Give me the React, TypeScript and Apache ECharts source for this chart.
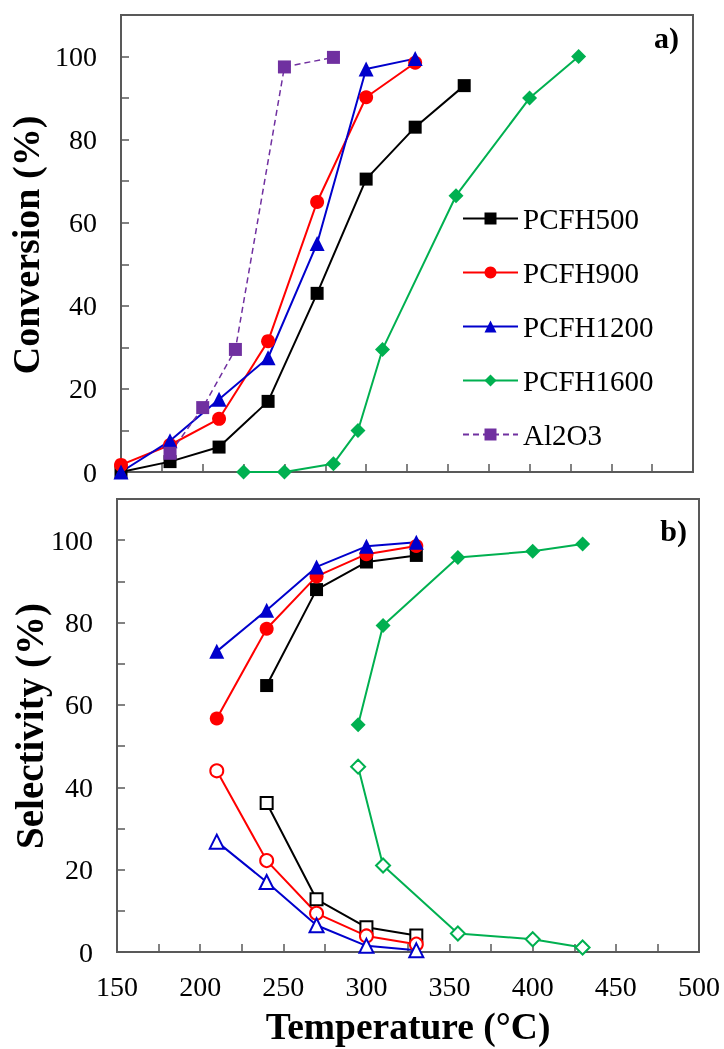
import { useEffect, useRef } from "react";
import * as echarts from "echarts";

const FONT = "Liberation Serif";

// Panel a) conversion (%) vs temperature (°C)
const tempPCFH500 = [150, 180, 210, 240, 270, 300, 330, 360];
const convPCFH500 = [0, 2.5, 6, 17, 43, 70.5, 83, 93];
const tempPCFH900 = [150, 180, 210, 240, 270, 300, 330];
const convPCFH900 = [1.7, 6.5, 12.8, 31.5, 65, 90.2, 98.5];
const tempPCFH1200 = [150, 180, 210, 240, 270, 300, 330];
const convPCFH1200 = [0, 7.5, 17.5, 27.5, 55, 97, 99.5];
const tempPCFH1600 = [225, 250, 280, 295, 310, 355, 400, 430];
const convPCFH1600 = [0, 0, 2, 10, 29.5, 66.5, 90, 100];
const tempAl2O3 = [180, 200, 220, 250, 280];
const convAl2O3 = [4.5, 15.5, 29.5, 97.5, 99.8];

// Panel b) selectivity (%) vs temperature (°C): filled = main product, open = by-product
const selTempPCFH500 = [240, 270, 300, 330];
const selPCFH500 = [64.7, 88, 94.7, 96.3];
const byPCFH500 = [36.2, 12.8, 6, 4];
const selTempPCFH900 = [210, 240, 270, 300, 330];
const selPCFH900 = [56.7, 78.5, 91.2, 96.6, 98.6];
const byPCFH900 = [44, 22.2, 9.4, 3.9, 1.9];
const selTempPCFH1200 = [210, 240, 270, 300, 330];
const selPCFH1200 = [73, 83, 93.5, 98.5, 99.5];
const byPCFH1200 = [26.8, 17, 6.5, 1.5, 0.4];
const selTempPCFH1600 = [295, 310, 355, 400, 430];
const selPCFH1600 = [55.2, 79.3, 95.8, 97.3, 99.1];
const byPCFH1600 = [45, 21, 4.5, 3.1, 1.1];

const legendNames = ["PCFH500", "PCFH900", "PCFH1200", "PCFH1600", "Al2O3"];

const COLORS: Record<string, string> = {
  PCFH500: "#000000",
  PCFH900: "#ff0000",
  PCFH1200: "#0000cc",
  PCFH1600: "#00b050",
  Al2O3: "#7030a0",
};

const zip = (xs: number[], ys: number[]) => xs.map((x, i) => [x, ys[i]]);

function makeLine(
  name: string,
  xs: number[],
  ys: number[],
  symbol: string,
  size: number,
  grid: number,
  dashed = false
) {
  const color = COLORS[name];
  const empty = symbol.startsWith("empty");
  return {
    type: "line",
    name,
    xAxisIndex: grid,
    yAxisIndex: grid,
    data: zip(xs, ys),
    symbol,
    symbolSize: size,
    showAllSymbol: true,
    lineStyle: { color, width: dashed ? 1.5 : 2, type: dashed ? [6, 4] : "solid" },
    itemStyle: empty
      ? { color, borderColor: color, borderWidth: 1.5 }
      : { color, borderWidth: 0 },
    emphasis: { disabled: true },
    z: 3,
  };
}

const axisColor = "#595959";

function xAxisFor(grid: number, showLabels: boolean) {
  return {
    type: "value",
    gridIndex: grid,
    min: 150,
    max: 500,
    interval: 25,
    axisLine: { show: true, onZero: false, lineStyle: { color: axisColor, width: 2 } },
    axisTick: { show: true, inside: true, length: 8, lineStyle: { color: axisColor, width: 1.5 } },
    splitLine: { show: false },
    axisLabel: {
      show: showLabels,
      margin: 20,
      color: "#000",
      fontFamily: FONT,
      fontSize: 28,
      formatter: (v: number) => (v % 50 === 0 ? String(v) : ""),
    },
  };
}

function yAxisFor(grid: number, margin: number) {
  return {
    type: "value",
    gridIndex: grid,
    min: 0,
    max: 110,
    interval: 10,
    axisLine: { show: true, lineStyle: { color: axisColor, width: 2 } },
    axisTick: { show: true, inside: true, length: 8, lineStyle: { color: axisColor, width: 1.5 } },
    splitLine: { show: false },
    axisLabel: {
      margin,
      color: "#000",
      fontFamily: FONT,
      fontSize: 28,
      formatter: (v: number) => (v % 20 === 0 && v <= 100 ? String(v) : ""),
    },
  };
}

export default function App() {
  const ref = useRef<HTMLDivElement>(null);

  useEffect(() => {
    if (!ref.current) return;
    const chart = echarts.init(ref.current, null, { renderer: "svg" });

    const series = [
      makeLine("PCFH500", tempPCFH500, convPCFH500, "rect", 13, 0),
      makeLine("PCFH900", tempPCFH900, convPCFH900, "circle", 14, 0),
      makeLine("PCFH1200", tempPCFH1200, convPCFH1200, "triangle", 15, 0),
      makeLine("PCFH1600", tempPCFH1600, convPCFH1600, "diamond", 15, 0),
      makeLine("Al2O3", tempAl2O3, convAl2O3, "rect", 13, 0, true),

      makeLine("PCFH500", selTempPCFH500, selPCFH500, "rect", 13, 1),
      makeLine("PCFH900", selTempPCFH900, selPCFH900, "circle", 14, 1),
      makeLine("PCFH1200", selTempPCFH1200, selPCFH1200, "triangle", 15, 1),
      makeLine("PCFH1600", selTempPCFH1600, selPCFH1600, "diamond", 15, 1),

      makeLine("PCFH500", selTempPCFH500, byPCFH500, "emptyRect", 12, 1),
      makeLine("PCFH900", selTempPCFH900, byPCFH900, "emptyCircle", 13, 1),
      makeLine("PCFH1200", selTempPCFH1200, byPCFH1200, "emptyTriangle", 14, 1),
      makeLine("PCFH1600", selTempPCFH1600, byPCFH1600, "emptyDiamond", 14, 1),
    ];

    const titleStyle = {
      fill: "#000",
      fontFamily: FONT,
      fontWeight: "bold",
      fontSize: 38,
      textAlign: "center",
      textVerticalAlign: "middle",
    };

    chart.setOption({
      animation: false,
      grid: [
        { left: 121, top: 15, width: 572, height: 457, show: true, borderColor: axisColor, borderWidth: 2, backgroundColor: "transparent" },
        { left: 117, top: 499, width: 582, height: 453, show: true, borderColor: axisColor, borderWidth: 2, backgroundColor: "transparent" },
      ],
      xAxis: [xAxisFor(0, false), xAxisFor(1, true)],
      yAxis: [yAxisFor(0, 24), yAxisFor(1, 24)],
      legend: {
        data: legendNames,
        orient: "vertical",
        left: 457,
        top: 199,
        itemWidth: 55,
        itemHeight: 15,
        itemGap: 25,
        selectedMode: false,
        textStyle: { color: "#000", fontFamily: FONT, fontSize: 29 },
      },
      graphic: [
        {
          type: "text",
          x: 26,
          y: 245,
          rotation: Math.PI / 2,
          style: { ...titleStyle, text: "Conversion (%)" },
        },
        {
          type: "text",
          x: 29,
          y: 726,
          rotation: Math.PI / 2,
          style: { ...titleStyle, fontSize: 39, text: "Selectivity (%)" },
        },
        {
          type: "text",
          x: 408,
          y: 1026,
          style: { ...titleStyle, fontSize: 37.5, text: "Temperature (°C)" },
        },
        {
          type: "text",
          x: 679,
          y: 37,
          style: { ...titleStyle, fontSize: 30, textAlign: "right", text: "a)" },
        },
        {
          type: "text",
          x: 687,
          y: 530,
          style: { ...titleStyle, fontSize: 30, textAlign: "right", text: "b)" },
        },
      ],
      series,
    });

    return () => chart.dispose();
  }, []);

  return (
    <div ref={ref} style={{ position: "fixed", left: 0, top: 0, width: 724, height: 1049 }} />
  );
}
